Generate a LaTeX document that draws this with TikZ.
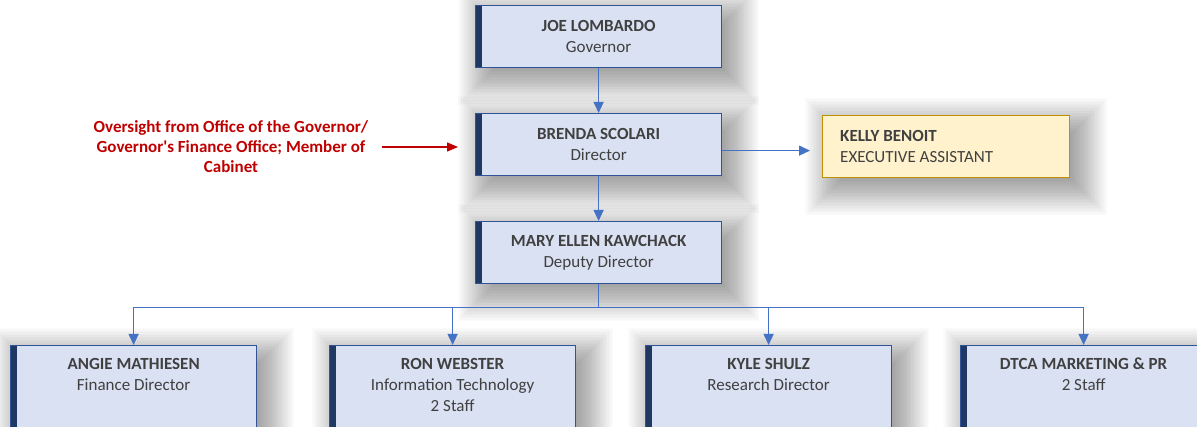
\documentclass[tikz,border=0pt]{standalone}
\usepackage{fontspec}
\setmainfont{Carlito}[Ligatures=TeXOff]
\usetikzlibrary{arrows.meta}

\definecolor{boxfill}{HTML}{DAE1F3}
\definecolor{boxline}{HTML}{2F5597}
\definecolor{boxbar}{HTML}{1F3864}
\definecolor{txt}{HTML}{404040}
\definecolor{conn}{HTML}{4472C4}
\definecolor{redtxt}{HTML}{C00000}
\definecolor{yfill}{HTML}{FFF2CC}
\definecolor{yline}{HTML}{BF9000}
\definecolor{ybar}{HTML}{7F6000}

\pgfdeclarelayer{bg}
\pgfsetlayers{bg,main}

\tikzset{
 bluebox/.style={draw=boxline, line width=1.2pt, fill=boxfill, minimum width=246pt, minimum height=62pt, inner sep=0pt, anchor=north west,
   path picture={\fill[boxbar] (path picture bounding box.south west) rectangle ([xshift=6pt]path picture bounding box.north west);}},
 lowbox/.style={bluebox, minimum height=110pt},
 yellowbox/.style={draw=yline, line width=1.2pt, fill=yfill, minimum width=247pt, minimum height=62pt, inner sep=0pt, anchor=north west,
   path picture={\fill[ybar] (path picture bounding box.south west) rectangle ([xshift=6pt]path picture bounding box.north west);}},
 boxtext/.style={text=txt, font=\fontsize{17}{21}\selectfont, align=center, inner sep=0pt},
 conn/.style={draw=conn, line width=1.3pt},
 connarrow/.style={conn, -{Triangle[length=11pt,width=10pt]}},
 redarrow/.style={draw=redtxt, line width=1.3pt, -{Triangle[length=11pt,width=9pt]}},
 shadowlayer/.style={fill=black, opacity=0.017},
}

\begin{document}
\begin{tikzpicture}[x=1pt,y=1pt]
\clip (0,0) rectangle (1197,-427);

% top boxes
\node[bluebox] (joe) at (475,-5) {};
\node[boxtext] (joet) at (joe.center) {\textbf{JOE LOMBARDO}\\Governor};
\node[bluebox] (brenda) at (475,-113) {};
\node[boxtext] (brendat) at (brenda.center) {\textbf{BRENDA SCOLARI}\\Director};
\node[bluebox] (mary) at (475,-221) {};
\node[boxtext] (maryt) at (mary.center) {\textbf{MARY ELLEN KAWCHACK}\\Deputy Director};

\node[yellowbox] (kelly) at (822,-115) {};
\node[boxtext, align=left, anchor=west] (kellyt) at ([xshift=18pt]kelly.west) {\textbf{KELLY BENOIT}\\EXECUTIVE ASSISTANT};

% note
\node[text=redtxt, font=\bfseries\fontsize{17}{20}\selectfont, align=center, inner sep=0pt] (note) at (231,-147)
 {Oversight from Office of the Governor/\\Governor's Finance Office; Member of\\Cabinet};

% bottom boxes
\node[lowbox] (angie) at (10,-345) {};
\node[boxtext, anchor=north] (angiet) at ([yshift=-13pt]angie.north) {\textbf{ANGIE MATHIESEN}\\Finance Director};
\node[lowbox] (ron) at (329,-345) {};
\node[boxtext, anchor=north] (ront) at ([yshift=-13pt]ron.north) {\textbf{RON WEBSTER}\\Information Technology\\2 Staff};
\node[lowbox] (kyle) at (645,-345) {};
\node[boxtext, anchor=north] (kylet) at ([yshift=-13pt]kyle.north) {\textbf{KYLE SHULZ}\\Research Director};
\node[lowbox] (dtca) at (960,-345) {};
\node[boxtext, anchor=north] (dtcat) at ([yshift=-13pt]dtca.north) {\textbf{DTCA MARKETING \& PR}\\2 Staff};

% connectors
\draw[connarrow] (joe.south) -- (brenda.north);
\draw[connarrow] (brenda.south) -- (mary.north);
\draw[connarrow] ([yshift=-6pt]brenda.east) -- ([yshift=-6pt,xshift=-12pt]brenda.east -| kelly.west);
\draw[redarrow] ([xshift=14pt]note.east) -- ([xshift=-17pt]note.east -| brenda.west);

\coordinate (bus) at ([yshift=-23pt]mary.south);
\draw[conn] (mary.south) -- (bus);
\draw[conn] (bus -| angie.north) -- (bus -| dtca.north);
\draw[connarrow] (bus -| angie.north) -- (angie.north);
\draw[connarrow] (bus -| ron.north) -- (ron.north);
\draw[connarrow] (bus -| kyle.north) -- (kyle.north);
\draw[connarrow] (bus -| dtca.north) -- (dtca.north);

% soft shadows
\begin{pgfonlayer}{bg}
\fill[white] (0,0) rectangle (1197,-427);
\foreach \n in {joe,brenda,mary,kelly,angie,ron,kyle,dtca}{
  \foreach \r in {-12,-10.5,...,27}{
    \fill[shadowlayer] ([shift={(10-\r,-10-\r)}]\n.south west) rectangle ([shift={(10+\r,-10+\r)}]\n.north east);
  }
}
\end{pgfonlayer}
\end{tikzpicture}
\end{document}
